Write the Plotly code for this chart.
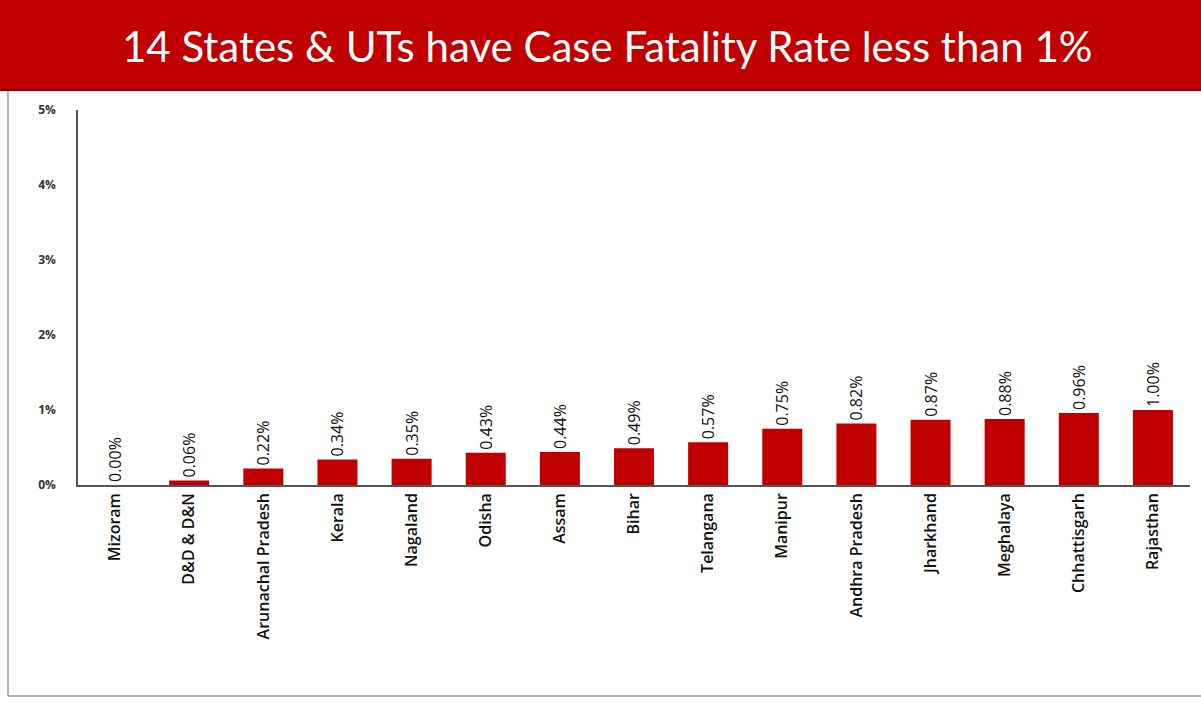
import plotly.graph_objects as go

states = ["Mizoram", "D&D & D&N", "Arunachal Pradesh", "Kerala", "Nagaland", "Odisha",
          "Assam", "Bihar", "Telangana", "Manipur", "Andhra Pradesh", "Jharkhand",
          "Meghalaya", "Chhattisgarh", "Rajasthan"]
cfr = [0.00, 0.06, 0.22, 0.34, 0.35, 0.43, 0.44, 0.49, 0.57, 0.75, 0.82, 0.87, 0.88, 0.96, 1.00]
y_ticks = [0, 1, 2, 3, 4, 5]
title_text = "14 States & UTs have Case Fatality Rate less than 1%"

RED = "#C00000"

# Plot area in pixels: x 76..1190, y 110..485
L, R, T, B = 78, 1190, 110, 485
W, H = 1201, 702


def px_x(x):
    return (x - L) / (R - L)


def px_y(y):
    return (B - y) / (B - T)


fig = go.Figure(go.Bar(
    x=states, y=cfr,
    marker=dict(color=RED, line=dict(width=0)),
    width=0.54,
    text=[f"{v:.2f}%" for v in cfr],
    textposition="outside",
    textangle=-90,
    textfont=dict(family="Open Sans", size=16, color="#111111"),
    cliponaxis=False,
    constraintext="none",
    hoverinfo="skip",
))

fig.update_layout(
    width=W, height=H,
    margin=dict(l=L, r=W - R, t=T, b=H - B, autoexpand=False),
    paper_bgcolor="white", plot_bgcolor="white",
    showlegend=False,
)

fig.add_shape(type="rect", xref="paper", yref="paper",
              x0=px_x(0), x1=px_x(W), y0=px_y(90), y1=px_y(0),
              fillcolor=RED, line=dict(width=0), layer="above")
fig.add_shape(type="line", xref="paper", yref="paper",
              x0=px_x(0), x1=px_x(W), y0=px_y(90), y1=px_y(90),
              line=dict(color="#8a0000", width=2))
fig.add_shape(type="line", xref="paper", yref="paper",
              x0=px_x(8), x1=px_x(8), y0=px_y(91), y1=px_y(696),
              line=dict(color="#9a9a9a", width=1.5))
fig.add_shape(type="line", xref="paper", yref="paper",
              x0=px_x(8), x1=px_x(W), y0=px_y(696), y1=px_y(696),
              line=dict(color="#9a9a9a", width=1.5))

fig.add_annotation(text=title_text, xref="paper", yref="paper",
                   x=px_x(607), y=px_y(46), xanchor="center", yanchor="middle",
                   showarrow=False,
                   font=dict(family="Lato", size=42, color="white"))

fig.update_xaxes(
    showline=True, linecolor="#555555", linewidth=1.5,
    ticks="", tickangle=-90,
    tickfont=dict(family="Open Sans", size=16, color="#111111", weight=600),
    showgrid=False,
)
fig.update_yaxes(
    range=[0, 5], tickvals=y_ticks, ticktext=[f"{t}%" for t in y_ticks],
    showline=True, linecolor="#555555", linewidth=1.5,
    ticks="", showgrid=False, zeroline=False,
    tickfont=dict(family="Open Sans", size=12, color="#333333", weight="bold"),
    ticklabelstandoff=18,
)

fig.write_html("out.html", config={"displayModeBar": False},
               post_script="document.body.style.margin='0';")
